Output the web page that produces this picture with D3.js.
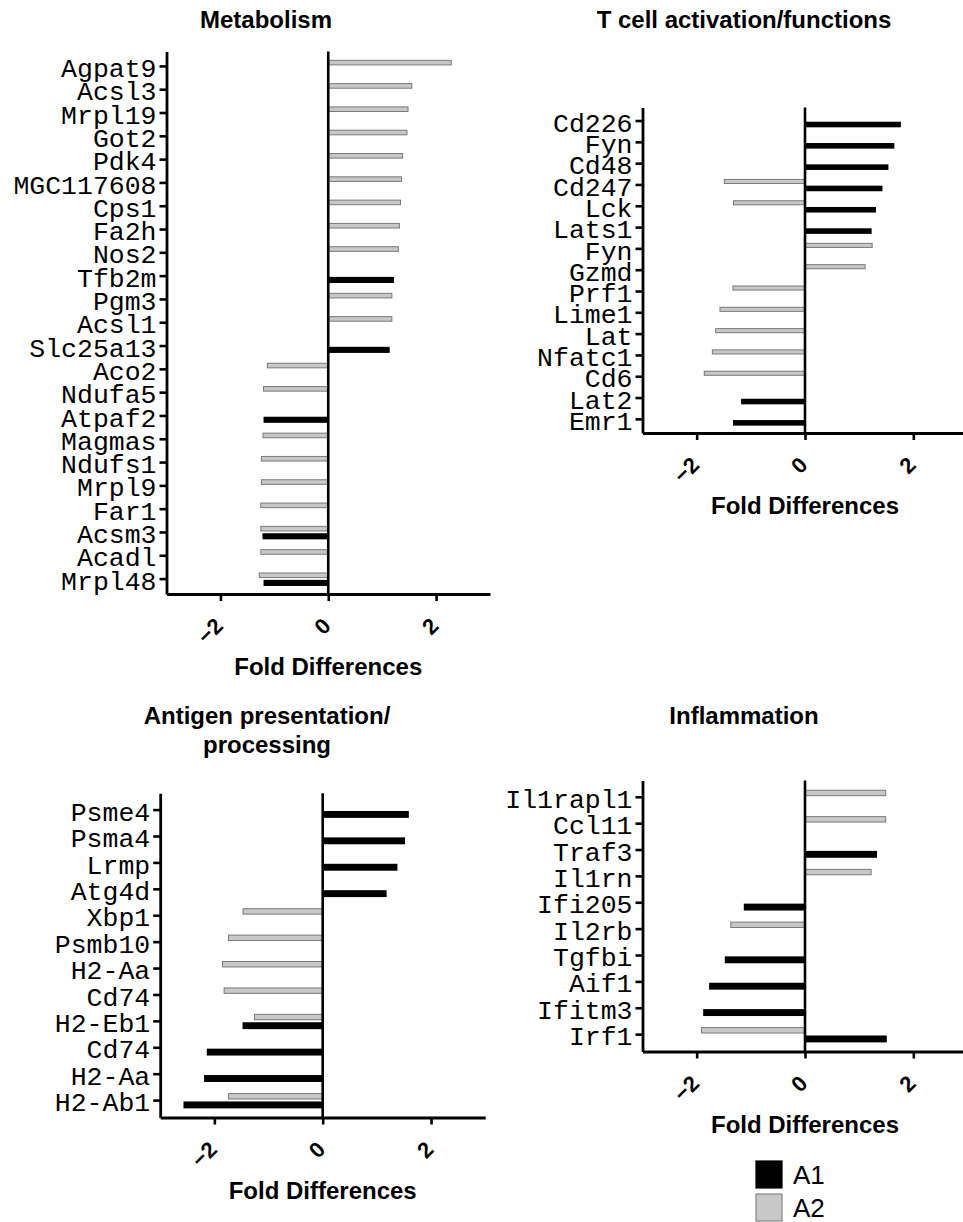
<!DOCTYPE html>
<html>
<head>
<meta charset="utf-8">
<script src="https://cdn.jsdelivr.net/npm/d3@7"></script>
<style>
  body { margin: 0; background: #fff; }
  svg { display: block; }
</style>
</head>
<body>
<div id="chart"></div>
<script>
// ---- data ----
const metabGenes = ["Agpat9","Acsl3","Mrpl19","Got2","Pdk4","MGC117608","Cps1","Fa2h","Nos2","Tfb2m","Pgm3","Acsl1","Slc25a13","Aco2","Ndufa5","Atpaf2","Magmas","Ndufs1","Mrpl9","Far1","Acsm3","Acadl","Mrpl48"];
const metabA1 = [null,null,null,null,null,null,null,null,null,1.22,null,null,1.14,null,null,-1.20,null,null,null,null,-1.22,null,-1.20];
const metabA2 = [2.28,1.55,1.48,1.46,1.38,1.36,1.34,1.32,1.30,null,1.18,1.18,null,-1.13,-1.20,null,-1.21,-1.24,-1.24,-1.25,-1.25,-1.25,-1.28];

const tcellGenes = ["Cd226","Fyn","Cd48","Cd247","Lck","Lats1","Fyn","Gzmd","Prf1","Lime1","Lat","Nfatc1","Cd6","Lat2","Emr1"];
const tcellA1 = [1.77,1.65,1.54,1.43,1.31,1.23,null,null,null,null,null,null,null,-1.18,-1.33];
const tcellA2 = [null,null,null,-1.49,-1.32,null,1.24,1.11,-1.33,-1.57,-1.65,-1.71,-1.86,null,null];

const antigenGenes = ["Psme4","Psma4","Lrmp","Atg4d","Xbp1","Psmb10","H2-Aa","Cd74","H2-Eb1","Cd74","H2-Aa","H2-Ab1"];
const antigenA1 = [1.59,1.52,1.38,1.18,null,null,null,null,-1.48,-2.14,-2.19,-2.57];
const antigenA2 = [null,null,null,null,-1.47,-1.74,-1.85,-1.82,-1.26,null,null,-1.74];

const inflamGenes = ["Il1rapl1","Ccl11","Traf3","Il1rn","Ifi205","Il2rb","Tgfbi","Aif1","Ifitm3","Irf1"];
const inflamA1 = [null,null,1.33,null,-1.13,null,-1.48,-1.77,-1.88,1.51];
const inflamA2 = [1.49,1.49,null,1.22,null,-1.37,null,null,null,-1.91];

const xTicks = [-2, 0, 2];
const series = ["A2", "A1"];   // A2 drawn above A1 inside each row
const seriesColor = {A1: "#000000", A2: "#c8c8c8"};
const seriesStroke = {A1: "#000000", A2: "#7a7a7a"};

const W = 963, H = 1222;
const svg = d3.select("#chart").append("svg")
    .attr("width", W).attr("height", H)
    .style("font-family", "'Liberation Sans', Arial, Helvetica, sans-serif");

function drawPanel(p) {
  const g = svg.append("g");

  const x = d3.scaleLinear().domain([-3, 3]).range(p.xRange);
  const y = d3.scaleBand()
    .domain(d3.range(p.genes.length))
    .range(p.yRange)
    .padding(0.28);
  const ySub = d3.scaleBand().domain(series).range([0, y.bandwidth()]).padding(0.2);

  // rows as {i, key, v}
  const rows = [];
  p.genes.forEach((name, i) => {
    if (p.a2[i] != null) rows.push({i: i, key: "A2", v: p.a2[i]});
    if (p.a1[i] != null) rows.push({i: i, key: "A1", v: p.a1[i]});
  });

  // bars (grey ones are a touch thinner, with an outline)
  const inset = d => d.key === "A2" ? 0.75 : 0;
  g.selectAll("rect.bar")
    .data(rows)
    .join("rect")
      .attr("class", "bar")
      .attr("x", d => Math.min(x(0), x(d.v)))
      .attr("y", d => y(d.i) + ySub(d.key) + inset(d))
      .attr("width", d => Math.abs(x(d.v) - x(0)))
      .attr("height", d => ySub.bandwidth() - 2 * inset(d))
      .attr("fill", d => seriesColor[d.key])
      .attr("stroke", d => seriesStroke[d.key])
      .attr("stroke-width", d => d.key === "A2" ? 1 : 0);

  // zero line
  const yr = y.range();
  g.append("line")
    .attr("x1", x(0)).attr("x2", x(0))
    .attr("y1", yr[0]).attr("y2", yr[1])
    .attr("stroke", "#000").attr("stroke-width", 2.6);

  // Y axis with gene names
  const yAxis = g.append("g")
    .attr("transform", `translate(${x.range()[0]},0)`)
    .call(d3.axisLeft(y).tickSize(7).tickSizeOuter(0).tickPadding(3)
      .tickFormat(i => p.genes[i]));
  yAxis.selectAll("text")
    .attr("dy", "0.4em")
    .style("font-family", "'Courier New', Courier, 'Liberation Mono', monospace")
    .style("font-size", "26.5px")
    .attr("fill", "#000");

  // X axis
  const xAxis = g.append("g")
    .attr("transform", `translate(0,${yr[1]})`)
    .call(d3.axisBottom(x).tickValues(xTicks).tickSize(7).tickSizeOuter(0)
      .tickFormat(d3.format("d")));
  xAxis.selectAll("text")
    .attr("y", 0).attr("dy", "0.35em")
    .attr("transform", "translate(-2,28) rotate(-45)")
    .style("text-anchor", "end")
    .style("font-size", "22px")
    .style("font-weight", "bold")
    .attr("fill", "#000");

  [yAxis, xAxis].forEach(a => {
    a.select(".domain").attr("stroke", "#000").attr("stroke-width", 2.8);
    a.selectAll(".tick line").attr("stroke", "#000").attr("stroke-width", 2.6);
  });

  // x axis title
  g.append("text")
    .attr("x", x(0)).attr("y", yr[1] + 81)
    .attr("text-anchor", "middle")
    .style("font-size", "24px").style("font-weight", "bold")
    .text("Fold Differences");

  // panel title
  p.title.forEach((line, k) => {
    g.append("text")
      .attr("x", p.titleX).attr("y", p.titleY + k * 29)
      .attr("text-anchor", "middle")
      .style("font-size", "24px").style("font-weight", "bold")
      .text(line);
  });
}

drawPanel({title: ["Metabolism"], titleX: 266, titleY: 28,
  genes: metabGenes, a1: metabA1, a2: metabA2,
  xRange: [166.5, 490], yRange: [51.5, 594]});

drawPanel({title: ["T cell activation/functions"], titleX: 744, titleY: 28,
  genes: tcellGenes, a1: tcellA1, a2: tcellA2,
  xRange: [642.5, 967.5], yRange: [107.4, 433]});

drawPanel({title: ["Antigen presentation/", "processing"], titleX: 267, titleY: 724,
  genes: antigenGenes, a1: antigenA1, a2: antigenA2,
  xRange: [160.2, 485.2], yRange: [793.2, 1117.5]});

drawPanel({title: ["Inflammation"], titleX: 744, titleY: 724,
  genes: inflamGenes, a1: inflamA1, a2: inflamA2,
  xRange: [642.5, 967.5], yRange: [780.4, 1051.5]});

// legend
const legend = svg.append("g").attr("transform", "translate(756,1161)");
["A1", "A2"].forEach((k, j) => {
  legend.append("rect")
    .attr("x", 0).attr("y", j * 33)
    .attr("width", 26).attr("height", 27)
    .attr("fill", seriesColor[k])
    .attr("stroke", k === "A2" ? "#888" : "#000").attr("stroke-width", 1.2);
  legend.append("text")
    .attr("x", 37).attr("y", j * 33 + 23)
    .style("font-size", "26px")
    .text(k);
});
</script>
</body>
</html>
